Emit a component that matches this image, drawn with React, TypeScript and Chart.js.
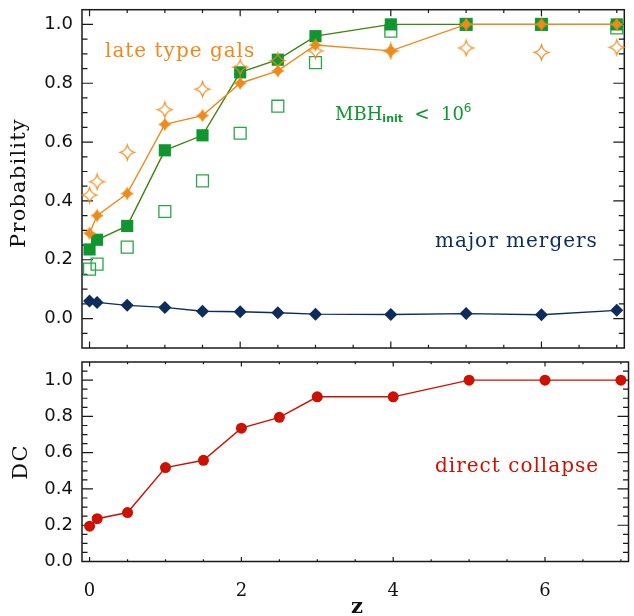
import { useEffect, useRef } from "react";
import { Chart, registerables } from "chart.js";
Chart.register(...registerables);

const zValues = [0, 0.1, 0.5, 1, 1.5, 2, 2.5, 3, 4, 5, 6, 7];
const lateTypeFilled = [0.29, 0.35, 0.425, 0.66, 0.69, 0.8, 0.842, 0.93, 0.91, 1.0, 1.0, 1.0];
const lateTypeOpen = [0.42, 0.465, 0.565, 0.71, 0.78, 0.855, 0.877, 0.91, 0.91, 0.92, 0.905, 0.922];
const mbhFilled = [0.235, 0.268, 0.315, 0.572, 0.623, 0.837, 0.88, 0.96, 1.0, 1.0, 1.0, 1.0];
const mbhOpen = [0.168, 0.185, 0.243, 0.364, 0.468, 0.63, 0.722, 0.87, 0.977, 1.0, 1.0, 0.988];
const majorMergers = [0.06, 0.055, 0.045, 0.038, 0.025, 0.023, 0.02, 0.015, 0.014, 0.017, 0.013, 0.028];
const directCollapse = [0.195, 0.236, 0.27, 0.518, 0.558, 0.735, 0.795, 0.908, 0.908, 1.0, 1.0, 1.0];

const probTicks = [0, 0.2, 0.4, 0.6, 0.8, 1.0];
const dcTicks = [0, 0.2, 0.4, 0.6, 0.8, 1.0];
const zTicks = [0, 2, 4, 6];

const ORANGE = "#ec8b1c";
const GREEN_FILL = "#10962f";
const GREEN_LINE = "#3f8411";
const GREEN_OPEN = "#2aa64a";
const NAVY = "#0b2c5c";
const RED = "#cc1100";

function pts(ys: number[]) {
  return zValues.map((z, i) => ({ x: z, y: ys[i] }));
}

function makeStar(R: number, filled: boolean, color: string, kf: number) {
  const s = Math.ceil(R * 2 + 4);
  const c = document.createElement("canvas");
  c.width = s;
  c.height = s;
  const g = c.getContext("2d")!;
  const cx = s / 2, cy = s / 2, k = R * kf;
  g.beginPath();
  g.moveTo(cx, cy - R);
  g.quadraticCurveTo(cx + k, cy - k, cx + R, cy);
  g.quadraticCurveTo(cx + k, cy + k, cx, cy + R);
  g.quadraticCurveTo(cx - k, cy + k, cx - R, cy);
  g.quadraticCurveTo(cx - k, cy - k, cx, cy - R);
  g.closePath();
  if (filled) {
    g.fillStyle = color;
    g.fill();
  } else {
    g.strokeStyle = color;
    g.lineWidth = 1.2;
    g.stroke();
  }
  return c;
}

function frameTicksPlugin(opts: { yMinor: number; xMinor: number; xMajor: number; yMajorList: number[]; yLen: number; xLen: number }) {
  return {
    id: "frameTicks",
    beforeDatasetsDraw(chart: any) {
      const { ctx, chartArea: a, scales } = chart;
      const xs = scales.x, ys = scales.y;
      ctx.save();
      ctx.strokeStyle = "#1a1a1a";
      ctx.lineWidth = 1.5;
      ctx.strokeRect(a.left, a.top, a.right - a.left, a.bottom - a.top);
      ctx.lineWidth = 1.2;
      ctx.beginPath();
      const x0 = Math.ceil((xs.min + 1e-9) / opts.xMinor), x1 = Math.floor((xs.max - 1e-9) / opts.xMinor);
      for (let i = x0; i <= x1; i++) {
        const v = i * opts.xMinor;
        const isMajor = Math.abs(v / opts.xMajor - Math.round(v / opts.xMajor)) < 1e-6;
        const L = isMajor ? opts.xLen : opts.xLen / 2;
        const px = xs.getPixelForValue(v);
        ctx.moveTo(px, a.bottom);
        ctx.lineTo(px, a.bottom - L);
        ctx.moveTo(px, a.top);
        ctx.lineTo(px, a.top + L);
      }
      const y0 = Math.ceil((ys.min + 1e-9) / opts.yMinor), y1 = Math.floor((ys.max - 1e-9) / opts.yMinor);
      for (let i = y0; i <= y1; i++) {
        const v = i * opts.yMinor;
        const isMajor = opts.yMajorList.some((m) => Math.abs(m - v) < 1e-6);
        const L = isMajor ? opts.yLen : opts.yLen / 2;
        const py = ys.getPixelForValue(v);
        if (py <= a.top + 0.5 || py >= a.bottom - 0.5) continue;
        ctx.moveTo(a.left, py);
        ctx.lineTo(a.left + L, py);
        ctx.moveTo(a.right, py);
        ctx.lineTo(a.right - L, py);
      }
      ctx.stroke();
      ctx.restore();
    },
  };
}

type Label = { parts: { t: string; font: string; dy?: number }[]; x: number; y: number; color: string; ls?: number };

function labelsPlugin(labels: Label[], titles: { t: string; x: number; y: number; rot: boolean; font: string; ls: number }[]) {
  return {
    id: "labels",
    afterDatasetsDraw(chart: any) {
      const { ctx } = chart;
      ctx.save();
      for (const l of labels) {
        let x = l.x;
        ctx.fillStyle = l.color;
        ctx.textBaseline = "alphabetic";
        ctx.textAlign = "left";
        (ctx as any).letterSpacing = (l.ls || 0) + "px";
        for (const p of l.parts) {
          ctx.font = p.font;
          ctx.fillText(p.t, x, l.y + (p.dy || 0));
          x += ctx.measureText(p.t).width;
        }
      }
      for (const t of titles) {
        ctx.save();
        ctx.fillStyle = "#111";
        ctx.font = t.font;
        (ctx as any).letterSpacing = t.ls + "px";
        ctx.textAlign = "center";
        ctx.textBaseline = "middle";
        ctx.translate(t.x, t.y);
        if (t.rot) ctx.rotate(-Math.PI / 2);
        ctx.fillText(t.t, 0, 0);
        ctx.restore();
      }
      ctx.restore();
    },
  };
}

const TITLE_FONT = "21px 'DejaVu Serif'";
const ANN_FONT = "20px 'DejaVu Serif'";

export default function App() {
  const topRef = useRef<HTMLCanvasElement>(null);
  const botRef = useRef<HTMLCanvasElement>(null);

  useEffect(() => {
    const starFilled = makeStar(7, true, ORANGE, 0.26);
    const starOpen = makeStar(7.4, false, ORANGE, 0.2);

    const yAxisCommon = (min: number, max: number, ticks: number[]) => ({
      type: "linear" as const,
      min,
      max,
      afterBuildTicks: (s: any) => {
        s.ticks = ticks.map((v) => ({ value: v }));
      },
      afterFit: (s: any) => {
        s.width = 82;
        s.paddingTop = 0;
        s.paddingBottom = 0;
      },
      grid: { display: false, drawTicks: false },
      border: { display: false },
      ticks: {
        autoSkip: false,
        padding: 9,
        color: "#111",
        font: { family: "'DejaVu Sans'", size: 18 },
        callback: (v: any) => Number(v).toFixed(1),
      },
    });

    const top = new Chart(topRef.current!, {
      type: "line",
      data: {
        datasets: [
          {
            label: "late type filled",
            data: pts(lateTypeFilled),
            borderColor: ORANGE,
            borderWidth: 1.4,
            pointStyle: starFilled as any,
            pointRadius: 6,
            order: 0,
          },
          {
            label: "late type open",
            data: pts(lateTypeOpen),
            showLine: false,
            borderColor: ORANGE,
            pointStyle: starOpen as any,
            pointRadius: 6,
            order: 1,
          },
          {
            label: "MBH filled",
            data: pts(mbhFilled),
            borderColor: GREEN_LINE,
            borderWidth: 1.4,
            pointStyle: "rect",
            pointRadius: 8.6,
            pointBackgroundColor: GREEN_FILL,
            pointBorderColor: GREEN_FILL,
            pointBorderWidth: 0,
            order: 2,
          },
          {
            label: "MBH open",
            data: pts(mbhOpen),
            showLine: false,
            pointStyle: "rect",
            pointRadius: 8.4,
            pointBackgroundColor: "rgba(0,0,0,0)",
            pointBorderColor: GREEN_OPEN,
            pointBorderWidth: 1.3,
            order: 3,
          },
          {
            label: "major mergers",
            data: pts(majorMergers),
            borderColor: NAVY,
            borderWidth: 1.4,
            pointStyle: "rectRot",
            pointRadius: 6.5,
            pointBackgroundColor: NAVY,
            pointBorderColor: NAVY,
            pointBorderWidth: 0,
            order: 4,
          },
        ],
      },
      options: {
        animation: false,
        responsive: true,
        maintainAspectRatio: false,
        events: [],
        layout: { padding: { left: 0, top: 8, right: 3, bottom: 12 } },
        plugins: { legend: { display: false }, tooltip: { enabled: false } },
        datasets: { line: { clip: false as any, tension: 0 } },
        scales: {
          x: { type: "linear", min: -0.1, max: 7.1, display: false },
          y: yAxisCommon(-0.1, 1.05, probTicks) as any,
        },
      },
      plugins: [
        frameTicksPlugin({ yMinor: 0.05, xMinor: 0.5, xMajor: 2, yMajorList: probTicks, yLen: 11, xLen: 6.5 }),
        labelsPlugin(
          [
            { parts: [{ t: "late type gals", font: ANN_FONT }], x: 105, y: 57, color: ORANGE, ls: 1 },
            {
              parts: [
                { t: "MBH", font: "18px 'DejaVu Serif'" },
                { t: "init", font: "bold 11px 'DejaVu Sans'", dy: 2 },
                { t: "  <  10", font: "18px 'DejaVu Serif'" },
                { t: "6", font: "12px 'DejaVu Sans'", dy: -8 },
              ],
              x: 335,
              y: 120,
              color: GREEN_FILL,
            },
            { parts: [{ t: "major mergers", font: ANN_FONT }], x: 435, y: 247, color: NAVY, ls: 1 },
          ],
          [{ t: "Probability", x: 20, y: 183, rot: true, font: TITLE_FONT, ls: 1.2 }]
        ) as any,
      ],
    } as any);

    const bot = new Chart(botRef.current!, {
      type: "line",
      data: {
        datasets: [
          {
            label: "direct collapse",
            data: pts(directCollapse),
            borderColor: RED,
            borderWidth: 1.4,
            pointStyle: "circle",
            pointRadius: 5.5,
            pointBackgroundColor: RED,
            pointBorderColor: RED,
            pointBorderWidth: 0,
          },
        ],
      },
      options: {
        animation: false,
        responsive: true,
        maintainAspectRatio: false,
        events: [],
        layout: { padding: { left: 0, top: 10, right: 3, bottom: 0 } },
        plugins: { legend: { display: false }, tooltip: { enabled: false } },
        datasets: { line: { clip: false as any, tension: 0 } },
        scales: {
          x: {
            type: "linear",
            min: -0.1,
            max: 7.1,
            afterBuildTicks: (s: any) => {
              s.ticks = zTicks.map((v) => ({ value: v }));
            },
            afterFit: (s: any) => {
              s.height = 54.5;
              s.paddingLeft = 0;
              s.paddingRight = 0;
            },
            grid: { display: false, drawTicks: false },
            border: { display: false },
            ticks: {
              autoSkip: false,
              maxRotation: 0,
              padding: 19,
              color: "#111",
              font: { family: "'DejaVu Serif'", size: 18 },
              callback: (v: any) => String(v),
            },
          },
          y: yAxisCommon(0, 1.1, dcTicks) as any,
        },
      },
      plugins: [
        frameTicksPlugin({ yMinor: 0.05, xMinor: 0.5, xMajor: 2, yMajorList: dcTicks, yLen: 11, xLen: 4.5 }),
        labelsPlugin(
          [{ parts: [{ t: "direct collapse", font: ANN_FONT }], x: 435, y: 120, color: RED, ls: 1 }],
          [
            { t: "DC", x: 22, y: 110, rot: true, font: TITLE_FONT, ls: 1.2 },
            { t: "z", x: 357, y: 256, rot: false, font: "bold 21px 'DejaVu Serif'", ls: 0 },
          ]
        ) as any,
      ],
    } as any);

    return () => {
      top.destroy();
      bot.destroy();
    };
  }, []);

  return (
    <div style={{ position: "absolute", left: 0, top: 0, width: 634, height: 616, background: "#fff" }}>
      <div style={{ position: "absolute", left: 0, top: 0, width: 634, height: 360 }}>
        <canvas ref={topRef} />
      </div>
      <div style={{ position: "absolute", left: 0, top: 352, width: 634, height: 264 }}>
        <canvas ref={botRef} />
      </div>
    </div>
  );
}
